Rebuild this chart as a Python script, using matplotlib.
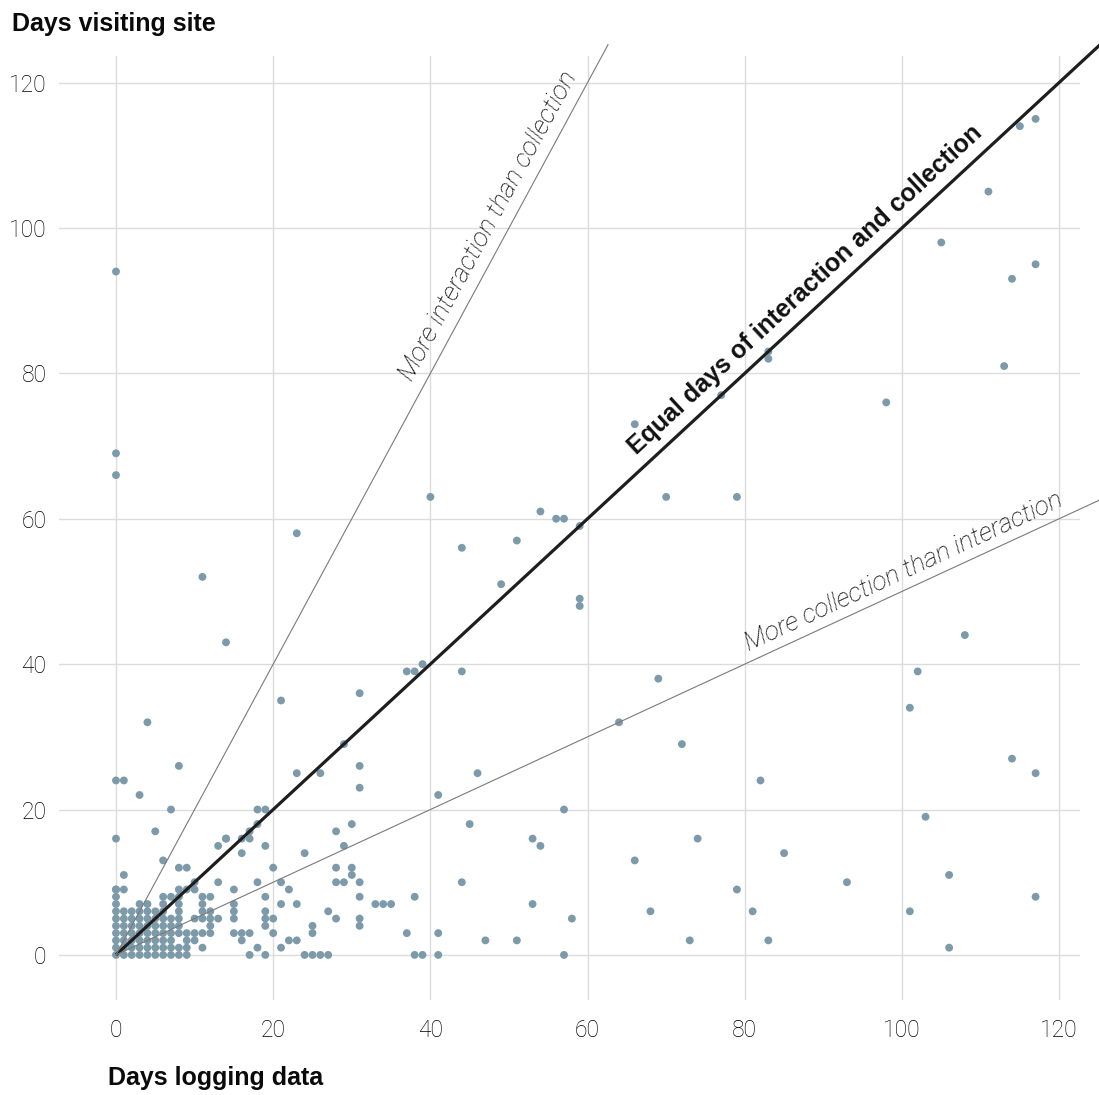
import matplotlib
matplotlib.use("Agg")
import matplotlib.pyplot as plt

# Days logging data (x) and days visiting site (y) per participant
cluster_x = []
cluster_y = []
# dense low-activity block, row by row: (y, list of x)
cluster_rows = [
    (0, [0, 1, 2, 3, 4, 5, 6, 7, 8, 9]),
    (1, [0, 1, 2, 3, 4, 5, 6, 7, 8, 9, 11]),
    (2, [0, 1, 2, 3, 4, 5, 6, 7, 9, 10]),
    (3, [0, 1, 2, 3, 4, 5, 6, 7, 8, 9, 10, 11, 12]),
    (4, [0, 1, 2, 3, 4, 5, 6, 7, 8, 12]),
    (5, [0, 1, 2, 3, 4, 5, 6, 7, 8, 10, 11, 12, 13]),
    (6, [0, 1, 2, 3, 4, 5, 6, 8, 11, 12]),
    (7, [0, 3, 4, 6, 8, 11]),
    (8, [0, 6, 7, 8, 11, 12]),
    (9, [0, 1, 8, 9]),
]
for yv, xs in cluster_rows:
    cluster_x += xs
    cluster_y += [yv] * len(xs)

other_x = [1, 6, 8, 9, 10, 10, 13, 13, 14, 14, 15, 15, 15, 15, 16, 16, 16, 16,
           17, 17, 17, 17, 18, 18, 18, 18, 19, 19, 19, 19, 19, 19, 19, 20, 20, 20,
           21, 21, 21, 21, 22, 22, 23, 23, 23, 23, 24, 24, 25, 25, 25, 26, 26, 27,
           27, 28, 28, 28, 28, 29, 29, 29, 30, 30, 30, 31, 31, 31, 31, 31, 31, 31,
           33, 34, 35, 0, 0, 0, 0, 0, 0, 1, 4, 8, 3, 7, 5, 11, 14, 40, 15]
other_y = [11, 13, 12, 12, 10, 9, 15, 10, 16, 16, 9, 7, 6, 3, 16, 14, 3, 2,
           17, 16, 3, 0, 20, 18, 10, 1, 20, 15, 8, 6, 5, 4, 0, 12, 5, 3,
           35, 10, 7, 1, 9, 2, 58, 25, 7, 2, 14, 0, 4, 3, 0, 25, 0, 6,
           0, 17, 12, 10, 5, 29, 15, 10, 18, 12, 11, 36, 26, 23, 10, 8, 5, 4,
           7, 7, 7, 94, 69, 66, 24, 16, 9, 24, 32, 26, 22, 20, 17, 52, 43, 63, 5]

mid_x = [37, 37, 38, 38, 38, 39, 39, 41, 41, 41, 44, 44, 44, 45, 46, 47, 49,
         51, 51, 53, 53, 54, 54, 56, 57, 57, 57, 58, 59, 59, 59, 64, 66, 66,
         68, 69, 70, 72, 73, 74, 77, 79, 79, 81, 82, 83, 83, 83, 85, 93, 98]
mid_y = [39, 3, 39, 8, 0, 40, 0, 22, 3, 0, 56, 39, 10, 18, 25, 2, 51,
         57, 2, 16, 7, 61, 15, 60, 60, 20, 0, 5, 59, 49, 48, 32, 73, 13,
         6, 38, 63, 29, 2, 16, 77, 63, 9, 6, 24, 83, 82, 2, 14, 10, 76]

high_x = [101, 101, 102, 103, 105, 106, 106, 108, 111, 113, 114, 114, 115,
          117, 117, 117, 117]
high_y = [34, 6, 39, 19, 98, 11, 1, 44, 105, 81, 93, 27, 114,
          115, 95, 25, 8]

x_vals = cluster_x + other_x + mid_x + high_x
y_vals = cluster_y + other_y + mid_y + high_y

ticks = [0, 20, 40, 60, 80, 100, 120]
tick_labels = ["0", "20", "40", "60", "80", "100", "120"]

light = dict(family="Roboto", weight="light")

fig = plt.figure(figsize=(10.99, 10.95), dpi=100)
ax = fig.add_axes([59 / 1099, 1 - 1000 / 1095, (1080 - 59) / 1099, (1000 - 56) / 1095])
ax.set_xlim(-7.25, 122.65)
ax.set_ylim(-6.2, 123.65)

for s in ax.spines.values():
    s.set_visible(False)
ax.set_xticks(ticks)
ax.set_yticks(ticks)
ax.set_xticklabels(tick_labels, fontsize=16.5, color="#000000", **light)
ax.set_yticklabels(tick_labels, fontsize=16.5, color="#000000", **light)
ax.tick_params(axis="both", length=0)
ax.tick_params(axis="x", pad=14)
ax.tick_params(axis="y", pad=9)
ax.grid(True, color="#dcdcdc", linewidth=1.0)
ax.set_axisbelow(True)

ax.scatter(x_vals, y_vals, s=32, color="#7c9aa9", edgecolors="none", zorder=3)

# reference lines: equal days, twice the interaction, twice the collection
ax.plot([0, 125.2], [0, 125.2], color="#1e1e1e", linewidth=2.3, zorder=4,
        clip_on=False, solid_capstyle="butt")
ax.plot([0, 62.6], [0, 125.2], color="#7a7a7a", linewidth=0.8, zorder=4,
        clip_on=False)
ax.plot([0, 125.2], [0, 62.6], color="#7a7a7a", linewidth=0.8, zorder=4,
        clip_on=False)

ax.text(87.7, 91.5, "Equal days of interaction and collection", rotation=45,
        transform_rotates_text=True, rotation_mode="anchor", ha="center",
        va="center", fontsize=18, fontweight="bold", color="#111111",
        family="Liberation Sans", zorder=5)
ax.text(47.4, 100.3, "More interaction than collection",
        rotation=63.43, transform_rotates_text=True, rotation_mode="anchor",
        ha="center", va="center", fontsize=19, style="italic", color="#000000",
        zorder=5, **light)
ax.text(100.2, 52.7, "More collection than interaction",
        rotation=26.57, transform_rotates_text=True, rotation_mode="anchor",
        ha="center", va="center", fontsize=19, style="italic", color="#000000",
        zorder=5, **light)

fig.text(12 / 1099, 1 - 24 / 1095, "Days visiting site", ha="left", va="center",
         fontsize=18, fontweight="bold", family="Liberation Sans", color="#0a0a0a")
fig.text(108 / 1099, 1 - 1078 / 1095, "Days logging data", ha="left", va="center",
         fontsize=18, fontweight="bold", family="Liberation Sans", color="#0a0a0a")

fig.savefig("out.png", dpi=100, facecolor="white")
